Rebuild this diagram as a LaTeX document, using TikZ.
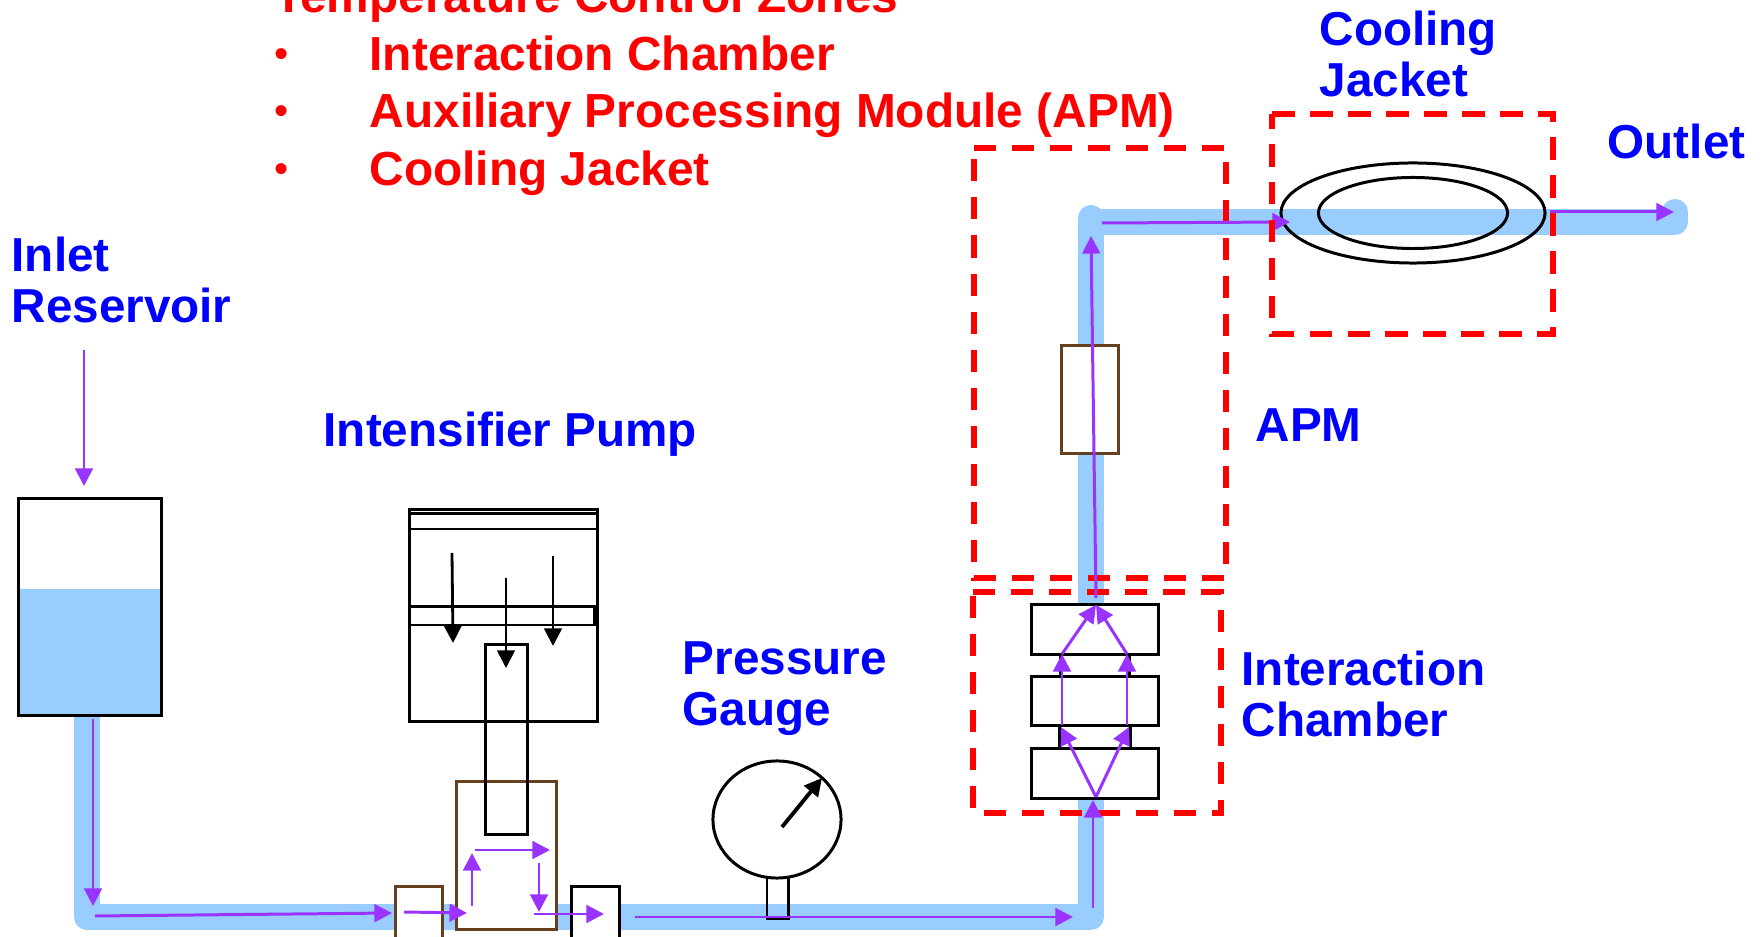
\documentclass[tikz,border=0pt]{standalone}
\usepackage{fontspec}
\setmainfont{Liberation Sans}
\usetikzlibrary{arrows.meta,shapes.geometric}

\begin{document}
\begin{tikzpicture}[x=0.01cm,y=-0.01cm,>={Triangle[length=5pt,width=5pt]},
    pipe/.style={draw=pipeblue,line width=7.4pt,line cap=round,line join=round},
    box/.style={draw=black,line width=0.85pt,fill=white,inner sep=0pt,outer sep=0pt},
    hollow/.style={box,fill=none},
    brownbox/.style={box,draw=valvebrown},
    flow/.style={->,color=flowpurple,line width=0.85pt},
    press/.style={->,color=black,line width=0.8pt},
    zone/.style={draw=red,line width=1.5pt,dash pattern=on 6.26pt off 4.55pt},
    bluetext/.style={text=blue,font=\fontsize{13.55}{14.45}\selectfont\bfseries,inner sep=0pt,align=left},
    redtext/.style={text=red,font=\fontsize{13.6}{15}\selectfont\bfseries,inner sep=0pt,anchor=base west},
    dot/.style={redtext,font=\fontsize{11.5}{12}\selectfont}]
  \definecolor{pipeblue}{HTML}{99CCFF}
  \definecolor{valvebrown}{HTML}{663F1F}
  \definecolor{flowpurple}{HTML}{9933FF}

  \path[use as bounding box,clip] (0,0) rectangle (1762,937);

  % pipe line
  \coordinate (p1) at (87,715);
  \coordinate (p2) at (87,917);
  \coordinate (p3) at (1091,917);
  \coordinate (p4) at (1091,218);
  \coordinate (p5) at (1091,222);
  \coordinate (p6) at (1675,222);
  \coordinate (p7) at (1675,212);
  \draw[pipe] (p1) -- (p2) -- (p3) -- (p4) -- (p5) -- (p6) -- (p7);

  % reservoir
  \node[fill=pipeblue,inner sep=0pt,minimum width=1.42cm,minimum height=1.26cm] (water) at (90,652) {};
  \node[hollow,minimum width=1.42cm,minimum height=2.16cm] (reservoir) at (90,607) {};

  % pump
  \node[brownbox,minimum width=0.99cm,minimum height=1.47cm] (valve) at (506.5,855.5) {};
  \node[brownbox,minimum width=0.475cm,minimum height=0.66cm] (check1) at (419,920) {};
  \node[box,minimum width=0.475cm,minimum height=0.66cm] (check2) at (595.5,920) {};
  \node[hollow,minimum width=1.87cm,minimum height=2.11cm] (cylinder) at (503.5,615.5) {};
  \node[hollow,minimum width=1.87cm,minimum height=0.15cm] (cap) at (503.5,521.5) {};
  \node[hollow,minimum width=1.84cm,minimum height=0.18cm] (piston) at (502,616) {};
  \node[hollow,minimum width=0.41cm,minimum height=1.89cm] (rod) at (506.5,739.5) {};

  % gauge
  \node[hollow,minimum width=0.21cm,minimum height=0.41cm] (stem) at (777.5,897.5) {};
  \node[box,ellipse,minimum width=1.28cm,minimum height=1.17cm] (gauge) at (777,819.5) {};
  \coordinate (needle1) at (782,827);
  \coordinate (needle2) at (822,778);
  \draw[press,line width=1.1pt] (needle1) -- (needle2);

  % chamber
  \node[box,minimum width=0.68cm,minimum height=0.22cm] (neck1) at (1095,666) {};
  \node[box,minimum width=0.70cm,minimum height=0.23cm] (neck2) at (1095,737.5) {};
  \node[box,minimum width=1.26cm,minimum height=0.49cm] (plate1) at (1095,629.5) {};
  \node[box,minimum width=1.26cm,minimum height=0.48cm] (plate2) at (1095,701) {};
  \node[box,minimum width=1.26cm,minimum height=0.49cm] (plate3) at (1095,773.5) {};
  \node[brownbox,minimum width=0.56cm,minimum height=1.07cm] (apm) at (1090,399.5) {};

  % jacket coil
  \node[hollow,ellipse,minimum width=2.64cm,minimum height=1.0cm] (coilout) at (1413,213) {};
  \node[hollow,ellipse,minimum width=1.89cm,minimum height=0.71cm] (coilin) at (1413,213) {};

  % piston force
  \coordinate (f1a) at (452,553);
  \coordinate (f1b) at (453,643);
  \coordinate (f2a) at (506,578);
  \coordinate (f2b) at (506,668);
  \coordinate (f3a) at (553,556);
  \coordinate (f3b) at (553,646);
  \path[press]
    (f1a) edge (f1b)
    (f2a) edge (f2b)
    (f3a) edge (f3b);

  % temperature zones
  \coordinate (za1) at (974,148);
  \coordinate (za2) at (1226,578);
  \coordinate (zc1) at (973,592);
  \coordinate (zc2) at (1221,813);
  \draw[zone] (za1) -- (za1 -| za2) -- (za2) -- (za2 -| za1) -- cycle;
  \draw[zone] (zc1) -- (zc1 -| zc2) -- (zc2) -- (zc2 -| zc1) -- cycle;

  % flow
  \coordinate (a1) at (84,350);
  \coordinate (a2) at (84,486);
  \coordinate (b1) at (93,719);
  \coordinate (b2) at (93,906);
  \coordinate (c1) at (95,916);
  \coordinate (c2) at (392,913);
  \coordinate (d1) at (404,912);
  \coordinate (d2) at (467,913);
  \coordinate (e1) at (472,906);
  \coordinate (e2) at (472,853);
  \coordinate (g1) at (475,850);
  \coordinate (g2) at (550,850);
  \coordinate (h1) at (539,863);
  \coordinate (h2) at (539,912);
  \coordinate (i1) at (534,914);
  \coordinate (i2) at (604,914);
  \coordinate (j1) at (635,917);
  \coordinate (j2) at (1073,917);
  \coordinate (k1) at (1093,908);
  \coordinate (k2) at (1093,800);
  \coordinate (m0) at (1096,797);
  \coordinate (m1) at (1061,727);
  \coordinate (m2) at (1129,727);
  \coordinate (n1) at (1062,725);
  \coordinate (n2) at (1062,654);
  \coordinate (o1) at (1127,725);
  \coordinate (o2) at (1127,654);
  \coordinate (q0) at (1096,605);
  \coordinate (r1) at (1096,598);
  \coordinate (r2) at (1091,236);
  \coordinate (s1) at (1102,223);
  \coordinate (s2) at (1290,222);
  \coordinate (t1) at (1550,212);
  \coordinate (t2) at (1674,212);
  \path[flow]
    (a1) edge (a2)
    (b1) edge (b2)
    (c1) edge (c2)
    (d1) edge (d2)
    (e1) edge (e2)
    (g1) edge (g2)
    (h1) edge (h2)
    (i1) edge (i2)
    (j1) edge (j2)
    (k1) edge (k2)
    (m0) edge (m1)
         edge (m2)
    (n1) edge (n2)
    (o1) edge (o2)
    (n2) edge (q0)
    (o2) edge (q0)
    (r1) edge (r2)
    (s1) edge (s2)
    (t1) edge (t2);

  \coordinate (zj1) at (1272,114);
  \coordinate (zj2) at (1553,334);
  \draw[zone,dash pattern=on 6.5pt off 4.3pt] (zj1) -- (zj1 -| zj2) -- (zj2) -- (zj2 -| zj1) -- cycle;

  % labels
  \node[bluetext,anchor=west] (inlet) at (11,280) {Inlet\\Reservoir};
  \node[bluetext,anchor=base west] (pumplabel) at (323,447) {Intensifier Pump};
  \node[bluetext,anchor=west] (gaugelabel) at (682,689) {Pressure\\Gauge};
  \node[bluetext,anchor=west] (chamberlabel) at (1241,694) {Interaction\\Chamber};
  \node[bluetext,anchor=base west] (apmlabel) at (1255,442) {APM};
  \node[bluetext,anchor=west] (jacketlabel) at (1319,54) {Cooling\\Jacket};
  \node[bluetext,anchor=base west] (outletlabel) at (1607,159) {Outlet};

  \node[redtext] (zones) at (274,13) {Temperature Control Zones};
  \node[dot] (bullet1) at (274,68) {•};
  \node[dot] (bullet2) at (274,125) {•};
  \node[dot] (bullet3) at (274,183) {•};
  \node[redtext] (item1) at (369,71) {Interaction Chamber};
  \node[redtext] (item2) at (369,128) {Auxiliary Processing Module (APM)};
  \node[redtext] (item3) at (369,186) {Cooling Jacket};
\end{tikzpicture}
\end{document}
